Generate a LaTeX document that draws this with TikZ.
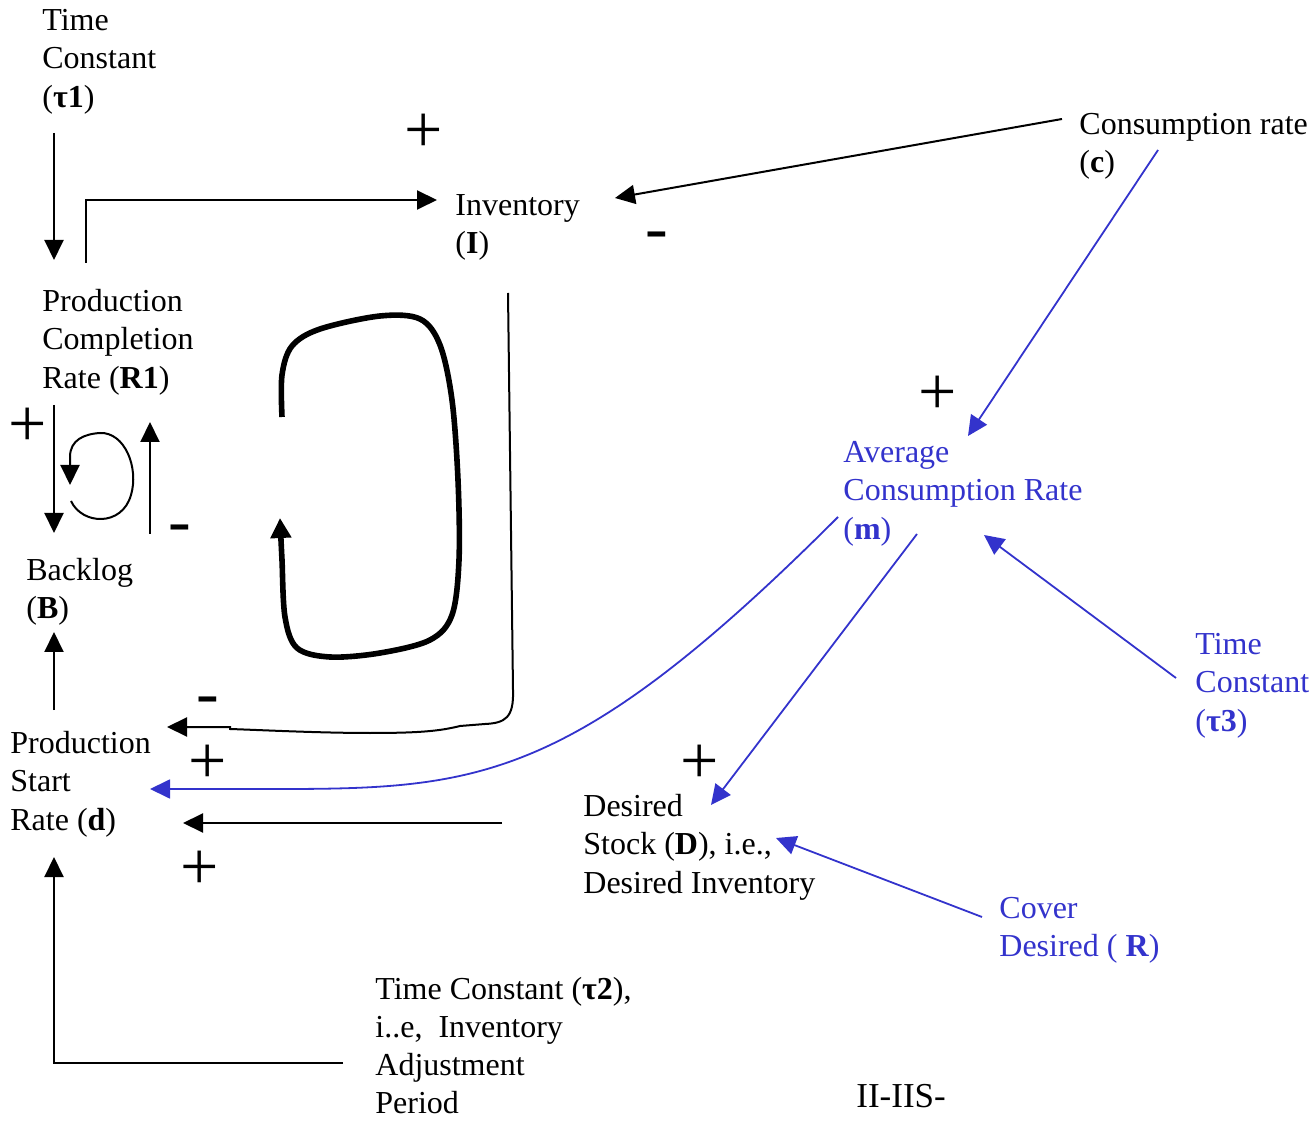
\documentclass[tikz,border=0pt]{standalone}
\usepackage{fontspec}
\setmainfont{Liberation Serif}
\usetikzlibrary{arrows.meta}
\definecolor{LoopBlue}{HTML}{3333CC}

\begin{document}
\begin{tikzpicture}[x=0.5pt, y=-0.5pt,
    lbl/.style={anchor=north west, inner sep=0pt, align=left,
      font=\fontsize{16}{19.2}\selectfont},
    bluelbl/.style={lbl, text=LoopBlue},
    signmark/.style={inner sep=0pt, font=\fontsize{34}{34}\selectfont},
    conn/.style={-{Triangle[length=10pt, width=9.5pt]}, line width=1pt},
    blueconn/.style={conn, draw=LoopBlue, line width=0.9pt},
    loopline/.style={-{Triangle[length=10pt, width=10pt]}, line width=2.8pt}
  ]
    \useasboundingbox (0,0) rectangle (1312,1122);

    \node[lbl] (tauone) at (42,3) {\strut Time\\Constant\\(\textbf{τ1})};
    \node[lbl] (inv) at (455,188) {\strut Inventory\\(\textbf{I})};
    \node[lbl] (cons) at (1079,107) {\strut Consumption rate\\(\textbf{c})};
    \node[lbl] (rone) at (42,284) {\strut Production\\Completion\\Rate (\textbf{R1})};
    \node[lbl] (backlog) at (26,553) {\strut Backlog\\(\textbf{B})};
    \node[bluelbl] (avg) at (843,435) {\strut Average\\Consumption Rate\\(\textbf{m})};
    \node[bluelbl] (tauthree) at (1195,627) {\strut Time\\Constant\\(\textbf{τ3})};
    \node[lbl] (start) at (10,726) {\strut Production\\Start\\Rate (\textbf{d})};
    \node[lbl] (desired) at (583,789) {\strut Desired\\Stock (\textbf{D}), i.e.,\\Desired Inventory};
    \node[bluelbl] (cover) at (999,891) {\strut Cover\\Desired ( \textbf{R})};
    \node[lbl, font=\fontsize{16}{18.9}\selectfont] (tautwo) at (375,973)
      {\strut Time Constant (\textbf{τ2}),\\i..e,\ \ Inventory\\Adjustment\\Period};
    \node[lbl, font=\fontsize{17.5}{20}\selectfont] (tag) at (856,1079) {\strut II-IIS-};

    % polarity signs
    \node[signmark] (pinv) at (424,133) {+};
    \node[signmark] (pavg) at (938,395) {+};
    \node[signmark] (pbacklog) at (28,427) {+};
    \node[signmark] (pstart) at (208,764) {+};
    \node[signmark] (pdesired) at (700,764) {+};
    \node[signmark] (ptautwo) at (200,870) {+};
    \node[signmark] (minv) at (657,241) {-};
    \node[signmark] (mbacklog) at (180,534) {-};
    \node[signmark] (mstart) at (208,706) {-};

    % connector ends
    \coordinate (tauone-out) at (54,133);
    \coordinate (rone-in) at (54,260);
    \coordinate (rone-out) at (86,263);
    \coordinate (inv-in) at (437,200);
    \coordinate (cons-out) at (1062,119);
    \coordinate (inv-in2) at (615,198);
    \coordinate (cons-out2) at (1158,150);
    \coordinate (avg-in) at (968,436);
    \coordinate (rone-down) at (54,405);
    \coordinate (backlog-in) at (54,533);
    \coordinate (backlog-out) at (150,534);
    \coordinate (rone-up) at (150,422);
    \coordinate (inv-out) at (508,293);
    \coordinate (start-in1) at (167,727);
    \coordinate (avg-out1) at (838,517);
    \coordinate (start-in2) at (150,789);
    \coordinate (avg-out2) at (917,534);
    \coordinate (desired-in) at (711,805);
    \coordinate (tauthree-out) at (1176,678);
    \coordinate (avg-in2) at (984,535);
    \coordinate (desired-out) at (502,823);
    \coordinate (start-in3) at (183,823);
    \coordinate (cover-out) at (982,917);
    \coordinate (desired-in2) at (776,838);
    \coordinate (tautwo-out) at (343,1063);
    \coordinate (start-in4) at (54,857);
    \coordinate (start-out) at (54,710);
    \coordinate (backlog-in2) at (54,632);

    \draw[conn] (tauone-out) -- (rone-in);
    \draw[conn] (rone-out) |- (inv-in);
    \draw[conn] (cons-out) -- (inv-in2);
    \draw[blueconn] (cons-out2) -- (avg-in);
    \draw[conn] (rone-down) -- (backlog-in);
    \draw[conn] (backlog-out) -- (rone-up);
    \draw[conn] (inv-out) -- (513,690) .. controls (514,718) and (505,723) .. (485,724)
      -- (460,726) .. controls (440,731) and (420,733) .. (370,733)
      .. controls (320,733) and (260,730) .. (230,729) -- (230,727) -- (start-in1);
    \draw[blueconn] (avg-out1) .. controls (560,795) and (470,789) .. (246,789) -- (start-in2);
    \draw[blueconn] (avg-out2) -- (desired-in);
    \draw[blueconn] (tauthree-out) -- (avg-in2);
    \draw[conn] (desired-out) -- (start-in3);
    \draw[blueconn] (cover-out) -- (desired-in2);
    \draw[conn] (tautwo-out) -| (start-in4);
    \draw[conn] (start-out) -- (backlog-in2);

    % feedback loops
    \draw[conn] (71,501) .. controls (82,525) and (122,527) .. (131,495)
      .. controls (139,468) and (125,432) .. (100,433)
      .. controls (84,434) and (70,440) .. (70,457) -- (70,485);
    \draw[loopline] plot[smooth, tension=0.55] coordinates {(282,417) (282,375) (292,346)
      (320,329) (380,316) (420,319) (440,345) (452,400) (458,480) (459,560) (452,615)
      (430,640) (380,653) (330,657) (297,648) (285,617) (282,560) (281,540)} -- (280,518);
\end{tikzpicture}
\end{document}
